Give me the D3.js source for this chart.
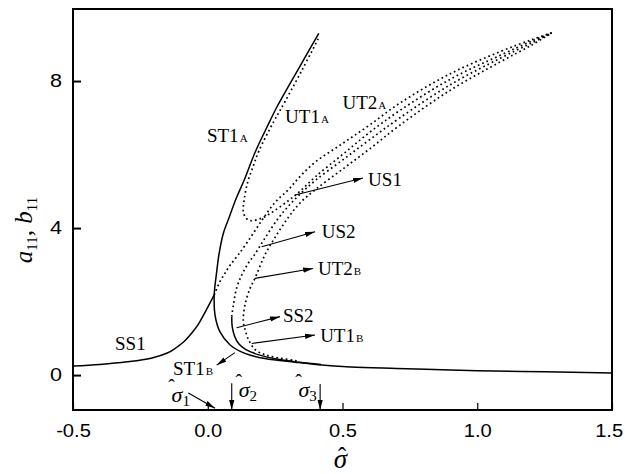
<!DOCTYPE html>
<html>
<head>
<meta charset="utf-8">
<script src="https://cdn.jsdelivr.net/npm/d3@7"></script>
<style>
  body { margin: 0; background: #fff; }
  svg { display: block; }
</style>
</head>
<body>
<div id="chart"></div>
<script>
// axis ticks
const xTicks = [-0.5, 0, 0.5, 1.0, 1.5];
const yTicks = [0, 4, 8];

// solid branches  [sigma, a11]
const ss1 = [[-0.5,0.245],[-0.4,0.29],[-0.3,0.36],[-0.21,0.46],[-0.15,0.6],[-0.12,0.73],[-0.09,0.9],
  [-0.06,1.14],[-0.035,1.38],[-0.012,1.68],[0.024,2.18]];
const st1 = [[0.412,9.3],[0.342,8.4],[0.257,7.3],[0.22,6.75],[0.175,6.05],[0.135,5.3],[0.105,4.8],
  [0.08,4.3],[0.058,3.86],[0.042,3.3],[0.033,2.8],[0.024,2.18],[0.027,1.63],[0.045,1.18],[0.083,0.82],
  [0.138,0.59],[0.212,0.45],[0.324,0.35],[0.4,0.29],[0.53,0.22],[0.7,0.18],[0.84,0.15],[1.0,0.12],
  [1.25,0.09],[1.5,0.06]];
const ss2 = [[0.089,1.59],[0.091,1.31],[0.1,1.05],[0.115,0.85],[0.14,0.7],[0.19,0.55],[0.26,0.43],
  [0.34,0.35],[0.42,0.29]];

// dotted (unstable) branches
const ut1 = [[0.41,9.15],[0.35,8.3],[0.27,7.22],[0.245,6.9],[0.19,6.1],[0.168,5.67],[0.147,5.22],
  [0.135,4.76],[0.132,4.45],[0.142,4.27],[0.16,4.2],[0.2,4.27],[0.245,4.46],[0.3,4.75],[0.342,5.0],
  [0.4,5.4],[0.5,6.0],[0.6,6.6],[0.713,7.2],[0.9,8.05],[1.085,8.7],[1.2,9.08],[1.276,9.31]];
const dotA = [[0.024,2.18],[0.045,2.54],[0.064,2.77],[0.083,2.99],[0.113,3.27],[0.15,3.65],[0.2,4.2],
  [0.25,4.7],[0.3,5.05],[0.342,5.4],[0.4,5.8],[0.5,6.3],[0.6,6.8],[0.713,7.4],[0.9,8.2],[1.085,8.8],
  [1.2,9.12],[1.276,9.31]];
const dotB = [[0.089,1.59],[0.095,1.9],[0.107,2.36],[0.126,2.72],[0.15,3.04],[0.173,3.27],[0.21,3.7],
  [0.26,4.25],[0.3,4.6],[0.342,4.92],[0.4,5.3],[0.5,5.85],[0.6,6.4],[0.713,7.0],[0.9,7.9],[1.085,8.62],
  [1.2,9.03],[1.276,9.31]];
const dotC = [[0.33,0.39],[0.26,0.47],[0.21,0.56],[0.175,0.7],[0.152,0.95],[0.14,1.2],[0.132,1.45],
  [0.138,1.9],[0.157,2.36],[0.175,2.63],[0.212,3.27],[0.25,3.75],[0.3,4.3],[0.342,4.68],[0.4,5.05],
  [0.5,5.6],[0.6,6.15],[0.713,6.8],[0.9,7.75],[1.085,8.52],[1.2,8.97],[1.276,9.31]];

// branch names and where they sit
const curveNames = [
  {main: "SS1", sub: "", at: [-0.344, 0.68]},
  {main: "ST1", sub: "A", at: [-0.003, 6.34]},
  {main: "UT1", sub: "A", at: [0.287, 6.86]},
  {main: "UT2", sub: "A", at: [0.5, 7.24]},
  {main: "US1", sub: "", at: [0.595, 5.14]},
  {main: "US2", sub: "", at: [0.423, 3.73]},
  {main: "UT2", sub: "B", at: [0.409, 2.72]},
  {main: "SS2", sub: "", at: [0.279, 1.45]},
  {main: "UT1", sub: "B", at: [0.417, 0.91]},
  {main: "ST1", sub: "B", at: [-0.129, 0.0]}
];
const pointers = [
  {from: [0.324, 4.9], to: [0.576, 5.36]},
  {from: [0.2, 3.49], to: [0.398, 3.9]},
  {from: [0.175, 2.63], to: [0.391, 2.9]},
  {from: [0.107, 1.29], to: [0.268, 1.59]},
  {from: [0.163, 0.86], to: [0.398, 1.09]},
  {from: [0.101, 0.61], to: [0.033, 0.27]}
];
// critical sigma values marked on the axis
const sigmaHats = [
  {sub: "1", label: [-0.114, -0.735], from: [-0.072, -0.49], to: [0.027, -0.9]},
  {sub: "2", label: [0.135, -0.6], from: [0.089, -0.22], to: [0.089, -0.95]},
  {sub: "3", label: [0.357, -0.6], from: [0.417, -0.245], to: [0.417, -0.95]}
];

const W = 625, H = 474;
const serif = "'Liberation Serif','Times New Roman',serif";
const sans = "'Liberation Sans',Arial,sans-serif";

const svg = d3.select("#chart").append("svg")
  .attr("width", W).attr("height", H);

const x = d3.scaleLinear().domain([-0.5, 1.5]).range([73, 612]);
const y = d3.scaleLinear().domain([-0.95, 9.96]).range([410, 9]);

svg.append("defs").append("marker")
  .attr("id", "head")
  .attr("markerUnits", "userSpaceOnUse")
  .attr("viewBox", "0 -3 10 6")
  .attr("refX", 10).attr("refY", 0)
  .attr("markerWidth", 10).attr("markerHeight", 6)
  .attr("orient", "auto")
  .append("path").attr("d", "M0,-2.6L10,0L0,2.6Z").attr("fill", "#000");

// frame
svg.append("rect")
  .attr("x", x(-0.5)).attr("y", y(9.96))
  .attr("width", x(1.5) - x(-0.5)).attr("height", y(-0.95) - y(9.96))
  .attr("fill", "none").attr("stroke", "#000").attr("stroke-width", 2);

// axes
const xAxis = svg.append("g")
  .attr("transform", "translate(0," + y(-0.95) + ")")
  .call(d3.axisBottom(x).tickValues(xTicks).tickFormat(d => d.toFixed(1))
    .tickSizeInner(-7).tickSizeOuter(0).tickPadding(14));
xAxis.select(".domain").remove();
xAxis.selectAll("line").attr("stroke-width", 1.2);
xAxis.selectAll("text")
  .attr("x", d => d === 1.5 ? -3 : 0)
  .attr("font-family", sans).attr("font-size", 18).attr("fill", "#000")
  .attr("transform", "scale(1.12,1)");

const yAxis = svg.append("g")
  .attr("transform", "translate(" + x(-0.5) + ",0)")
  .call(d3.axisLeft(y).tickValues(yTicks).tickFormat(d3.format("d"))
    .tickSizeInner(-8).tickSizeOuter(0));
yAxis.select(".domain").remove();
yAxis.selectAll("line").attr("stroke-width", 2);
yAxis.selectAll("text")
  .attr("x", 0)
  .attr("font-family", sans).attr("font-size", 18).attr("fill", "#000")
  .attr("transform", "translate(-11,0) scale(1.2,1)");

// curves
const line = d3.line()
  .x(d => x(d[0])).y(d => y(d[1]))
  .curve(d3.curveCatmullRom.alpha(0.5));

const plot = svg.append("g");
[ss1, st1, ss2].forEach(c => {
  plot.append("path").attr("d", line(c))
    .attr("fill", "none").attr("stroke", "#000").attr("stroke-width", 1.5);
});
[ut1, dotA, dotB, dotC].forEach(c => {
  plot.append("path").attr("d", line(c))
    .attr("fill", "none").attr("stroke", "#000").attr("stroke-width", 1.7)
    .attr("stroke-dasharray", "1.7,3");
});

// pointer arrows
svg.selectAll(".ptr").data(pointers.concat(sigmaHats)).enter().append("line")
  .attr("class", "ptr")
  .attr("x1", d => x(d.from[0])).attr("y1", d => y(d.from[1]))
  .attr("x2", d => x(d.to[0])).attr("y2", d => y(d.to[1]))
  .attr("stroke", "#000").attr("stroke-width", 1.1)
  .attr("marker-end", "url(#head)");

// branch labels
const names = svg.selectAll(".name").data(curveNames).enter().append("text")
  .attr("class", "name")
  .attr("x", d => x(d.at[0])).attr("y", d => y(d.at[1]))
  .attr("font-family", serif).attr("font-size", 19).attr("fill", "#000");
names.append("tspan").text(d => d.main);
names.append("tspan").attr("font-size", 11).attr("dx", 1).text(d => d.sub);

// sigma with a hat: one text, hat tspan placed above the letter
function hatSigma(t, cx, base, size, hatDx, hatUp) {
  t.attr("font-family", serif).attr("fill", "#000");
  t.append("tspan")
    .attr("x", cx + hatDx - size * 0.17).attr("y", base - hatUp)
    .attr("font-size", size * 0.9).text("ˆ");
  t.append("tspan")
    .attr("x", cx - size * 0.25).attr("y", base)
    .attr("font-size", size).attr("font-style", "italic").text("σ");
}

const sh = svg.selectAll(".sh").data(sigmaHats).enter().append("text").attr("class", "sh")
  .each(function(d) {
    const t = d3.select(this);
    hatSigma(t, x(d.label[0]), y(d.label[1]), 22, -5, 10);
    t.append("tspan").attr("font-size", 15).attr("dy", 4).text(d.sub);
  });

// axis titles
hatSigma(svg.append("text"), x(0.493), 468, 27, 2, 3);

const yt = svg.append("text")
  .attr("transform", "translate(32,230) rotate(-90)")
  .attr("text-anchor", "middle")
  .attr("font-family", serif).attr("font-size", 25).attr("fill", "#000");
yt.append("tspan").attr("font-style", "italic").text("a");
yt.append("tspan").attr("font-size", 15).attr("dy", 5).text("11");
yt.append("tspan").attr("dy", -5).text(", ");
yt.append("tspan").attr("font-style", "italic").text("b");
yt.append("tspan").attr("font-size", 15).attr("dy", 5).text("11");
</script>
</body>
</html>
